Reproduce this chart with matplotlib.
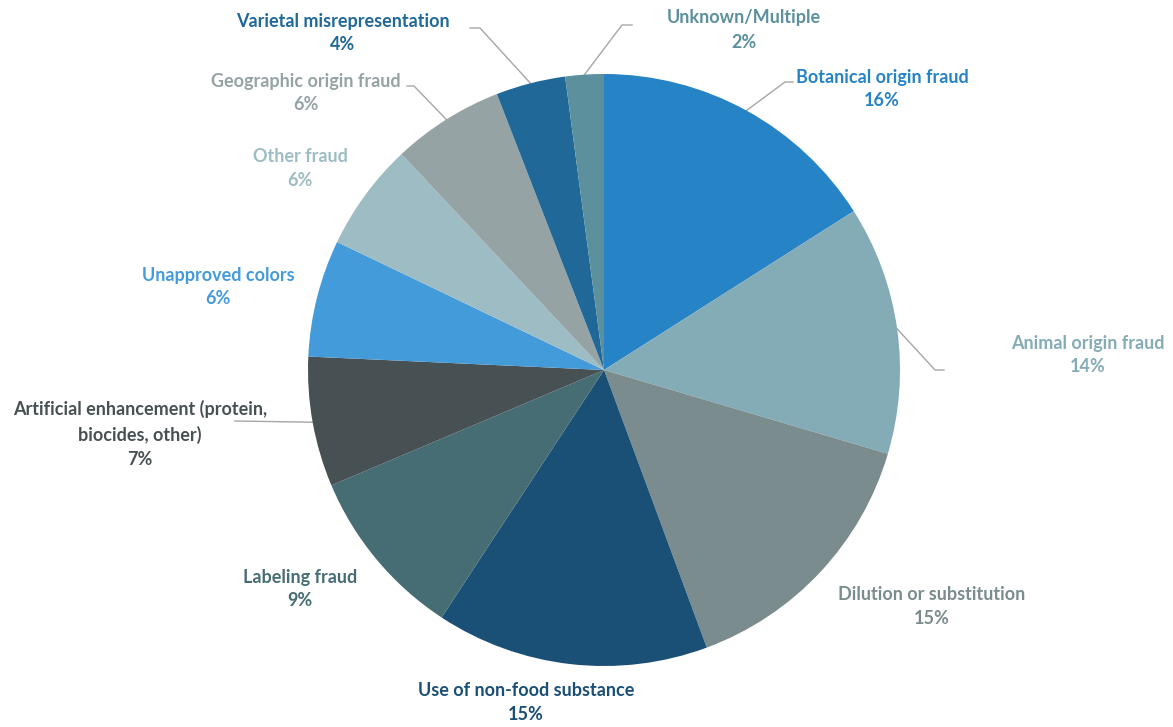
import matplotlib
matplotlib.use("Agg")
import matplotlib.pyplot as plt
import numpy as np

plt.rcParams['font.family'] = ['Lato', 'DejaVu Sans']

# shares of fraud types
categories = ["Botanical origin fraud", "Animal origin fraud", "Dilution or substitution",
              "Use of non-food substance", "Labeling fraud",
              "Artificial enhancement (protein,\nbiocides, other)", "Unapproved colors",
              "Other fraud", "Geographic origin fraud", "Varietal misrepresentation",
              "Unknown/Multiple"]
shares = [16.0, 13.6, 14.8, 14.9, 9.4, 7.1, 6.4, 5.9, 6.1, 3.8, 2.1]
colors = ["#2683C6", "#84ACB6", "#7A8C8E", "#1A4F76", "#466D74", "#475154",
          "#449BDA", "#9DBCC4", "#95A3A5", "#1F6898", "#5B909C"]

# label centres (pixels, from top-left) and leader elbow points (None = no leader)
label_pos = [(882, 89), (1088, 355), (932, 606), (526, 702), (300, 589), (140, 434),
             (218, 287), (300, 169), (306, 93), (343, 33), (744, 30)]
elbows = [[(785, 82), (793, 82)], [(935, 370), (944, 370)], None, None, None,
          [(235, 421)], None, None, [(414, 86), (407, 86)], [(480, 28), (470, 28)],
          [(622, 25), (632, 25)]]

W, H = 1173, 727
fig = plt.figure(figsize=(W / 100, H / 100), dpi=100)
ax = fig.add_axes([0, 0, 1, 1])

cx, cy, r = 604, H - 370, 296
wedges, _ = ax.pie(shares, colors=colors, startangle=90, counterclock=False,
                   center=(cx, cy), radius=r, frame=True,
                   wedgeprops=dict(linewidth=0))
ax.set_xlim(0, W)
ax.set_ylim(0, H)
ax.set_aspect('equal')
ax.axis('off')

total = sum(shares)
for w, name, v, col, pos, el in zip(wedges, categories, shares, colors, label_pos, elbows):
    pct = round(v / total * 100)
    ax.text(pos[0], H - pos[1], f"{name}\n{pct}%", ha='center', va='center',
            color=col, fontsize=13, fontweight='bold', linespacing=1.5)
    if el is not None:
        mid = np.deg2rad((w.theta1 + w.theta2) / 2)
        pts = [(cx + r * np.cos(mid), cy + r * np.sin(mid))] + [(x, H - y) for x, y in el]
        xs, ys = zip(*pts)
        ax.plot(xs, ys, color="#A6A6A6", lw=1.0, zorder=0)

fig.savefig("out.png", dpi=100)
